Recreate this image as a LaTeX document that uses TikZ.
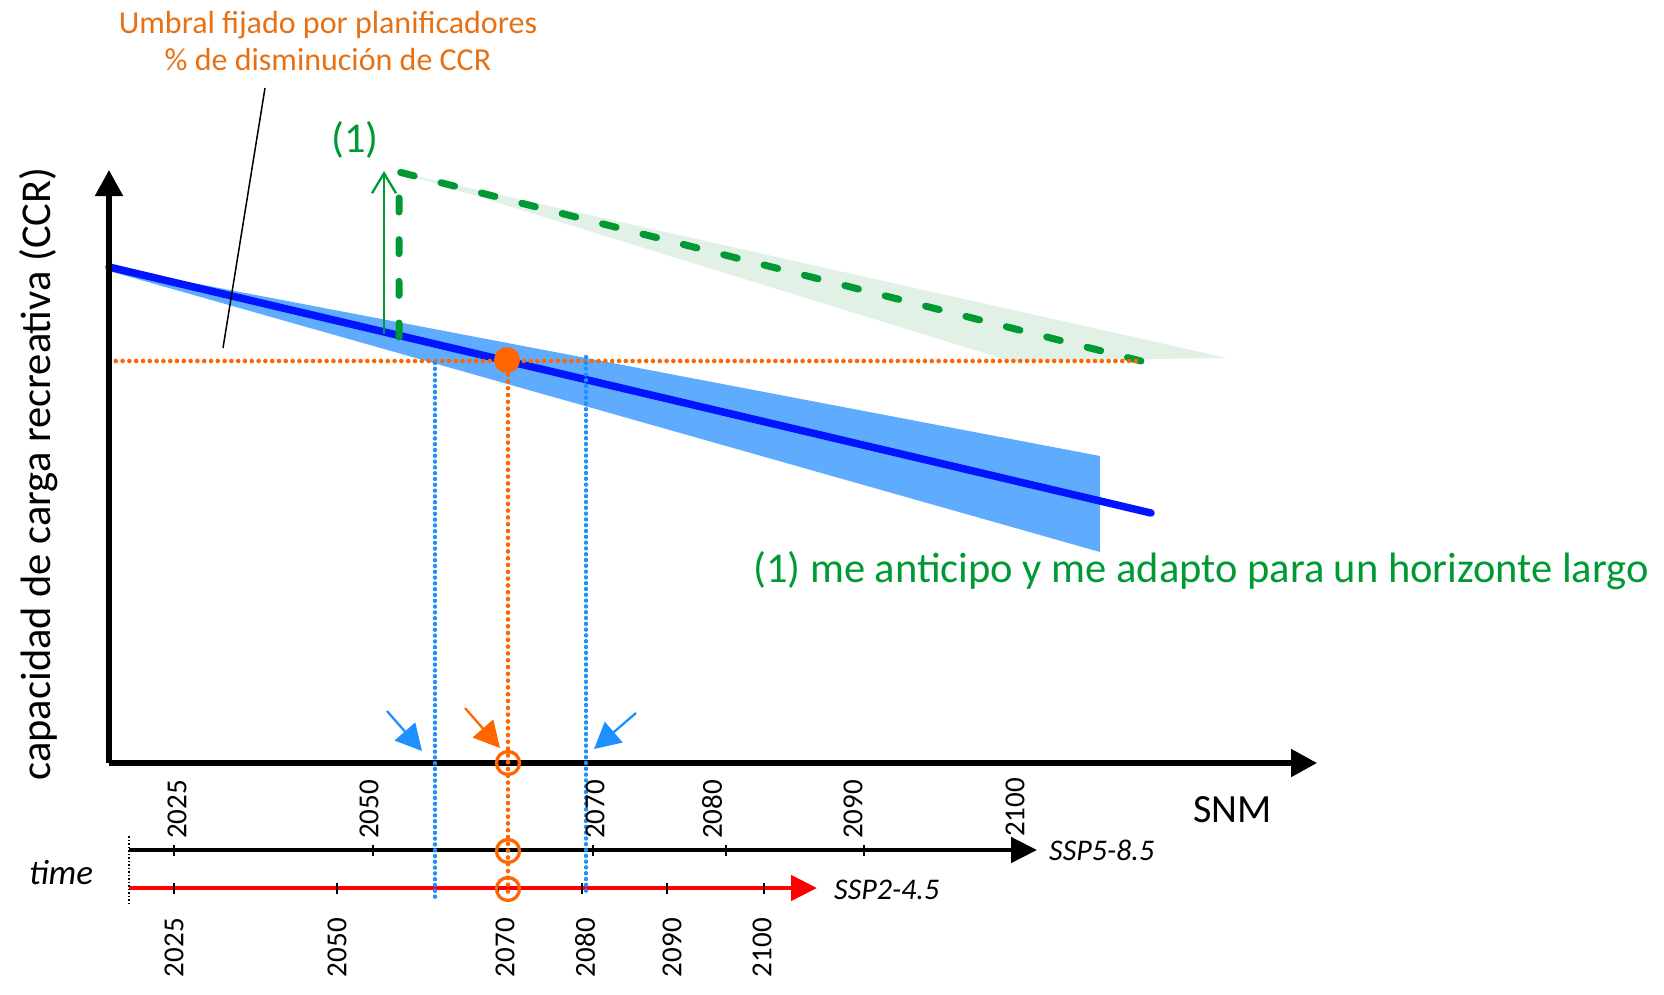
\documentclass[tikz,border=0pt]{standalone}
\usepackage{fontspec}
\setmainfont{Carlito}
\usetikzlibrary{arrows.meta}
\definecolor{cblue}{RGB}{0,20,255}
\definecolor{cband}{RGB}{95,172,255}
\definecolor{cgreen}{RGB}{0,153,51}
\definecolor{cgband}{RGB}{226,241,230}
\definecolor{corange}{RGB}{255,102,0}
\definecolor{ctext}{RGB}{232,112,20}
\definecolor{cdodger}{RGB}{30,144,255}
\definecolor{cred}{RGB}{255,0,0}
\tikzset{
  mainaxis/.style={line width=5.2pt,-{Triangle[length=26pt,width=27pt]}},
  timeaxis/.style={line width=4.6pt,-{Triangle[length=26pt,width=25pt]}},
  tickmark/.style={line width=1.5pt,black},
  odots/.style={corange,line width=4.6pt,line cap=round,dash pattern=on 0pt off 6.8pt},
  bdots/.style={cdodger,line width=4.4pt,line cap=round,dash pattern=on 0pt off 5.8pt},
  pointer/.style={line width=2.3pt,-{Triangle[length=26pt,width=27pt]}},
  ring/.style={circle,draw=corange,line width=3.3pt,minimum size=23pt,inner sep=0pt},
  yearup/.style={rotate=90,anchor=west,inner sep=0pt,font=\fontsize{29}{34}\selectfont},
  yeardown/.style={rotate=90,anchor=east,inner sep=0pt,font=\fontsize{29}{34}\selectfont},
  ssp/.style={anchor=base west,inner sep=0pt,font=\fontsize{30}{36}\selectfont\itshape},
  big/.style={inner sep=0pt,font=\fontsize{42.5}{50}\selectfont},
  titletext/.style={anchor=base,inner sep=0pt,text=ctext,font=\fontsize{32}{38}\selectfont}
}
\begin{document}
\begin{tikzpicture}[x=1pt,y=-1pt]
\useasboundingbox (0,0) rectangle (1664,994);
% coordinates
\coordinate (O) at (109,763);
\coordinate (ytop) at (109,170);
\coordinate (xend) at (1317,763);
\coordinate (t1s) at (129,850);
\coordinate (t1e) at (1037,850);
\coordinate (t2s) at (129,888);
\coordinate (t2e) at (817,888);
\coordinate (ls) at (109,267);
\coordinate (le) at (1151,513);
\coordinate (thS) at (109,361);
\coordinate (thE) at (1141,361);
\coordinate (gb) at (399,337);
\coordinate (gc) at (399,172);
\coordinate (ge) at (1141,361);
% green band
\fill[cgband] (398,172) -- (1227,358) -- (1010,361) -- cycle;
% blue band
\fill[cband] (ls) -- (1100,456) -- (1100,552) -- (109,271) -- cycle;
% blue line
\draw[cblue,line width=7.5pt,line cap=round] (ls) -- (le);
% green dashed
\draw[cgreen,line width=7pt,line cap=round,dash pattern=on 14pt off 27.67pt] (gb) -- (gc) -- (ge);
% green arrow
\coordinate (ga1) at (384,334);
\coordinate (ga2) at (384,171);
\draw[cgreen,line width=2.3pt,-{Straight Barb[length=20pt,width=24pt]}] (ga1) -- (ga2);
% threshold
\draw[odots] (thS) -- (thE);
% axes
\draw[mainaxis] (O) -- (ytop);
\draw[mainaxis] (O) -- (xend);
\draw[timeaxis,black] (t1s) -- (t1e);
\draw[timeaxis,cred] (t2s) -- (t2e);
\draw[black,line width=1.5pt,dash pattern=on 1.5pt off 2pt] (129,836) -- (129,904);
% ticks
\foreach \x in {174,373,593,726,864}{\draw[tickmark] (\x,845) -- (\x,856);}
\foreach \x in {174,337,498,582,667,764}{\draw[tickmark] (\x,883) -- (\x,894);}
% vertical dotted
\draw[bdots] (435,363) -- (435,897);
\draw[bdots] (586,357) -- (586,895);
\draw[odots] (508,361) -- (508,897);
% dot
\node[circle,fill=corange,minimum size=26pt,inner sep=0pt] (pt) at (507,360) {};
% pointer arrows
\coordinate (a1s) at (387,711); \coordinate (a1e) at (422,751);
\coordinate (a2s) at (465,708); \coordinate (a2e) at (500,748);
\coordinate (a3s) at (636,713); \coordinate (a3e) at (594,749);
\draw[pointer,cdodger] (a1s) -- (a1e);
\draw[pointer,corange] (a2s) -- (a2e);
\draw[pointer,cdodger] (a3s) -- (a3e);
% rings
\node[ring] (r1) at (508,763) {};
\node[ring] (r2) at (508,851) {};
\node[ring] (r3) at (508,889) {};
% leader
\coordinate (lt) at (265,88);
\coordinate (lb) at (223,348);
\draw[black,line width=1.5pt] (lt) -- (lb);
% texts
\node[titletext] (title1) at (328,33) {Umbral fijado por planificadores};
\node[titletext] (title2) at (328,70) {\% de disminución de CCR};
\node[big,anchor=base west,text=cgreen] (one) at (331,152) {(1)};
\node[big,anchor=base west,text=cgreen] (note) at (753,582) {(1) me anticipo y me adapto para un horizonte largo};
\node[big,rotate=90,anchor=base] (ylab) at (50,474) {capacidad de carga recreativa (CCR)};
\node[anchor=base west,inner sep=0pt,font=\fontsize{40}{48}\selectfont] (snm) at (1193,822) {SNM};
\node[ssp] (s5) at (1049,860) {SSP5-8.5};
\node[ssp] (s2) at (834,899) {SSP2-4.5};
\node[anchor=base west,inner sep=0pt,font=\fontsize{35}{42}\selectfont\itshape] (time) at (29,884) {time};
% year labels upper
\node[yearup] (u1) at (177,839) {2025};
\node[yearup] (u2) at (369,839) {2050};
\node[yearup] (u3) at (595,839) {2070};
\node[yearup] (u4) at (712,839) {2080};
\node[yearup] (u5) at (853,839) {2090};
\node[yearup] (u6) at (1015,837) {2100};
% year labels lower
\node[yeardown] (d1) at (174,918) {2025};
\node[yeardown] (d2) at (337,918) {2050};
\node[yeardown] (d3) at (505,918) {2070};
\node[yeardown] (d4) at (585,918) {2080};
\node[yeardown] (d5) at (672,918) {2090};
\node[yeardown] (d6) at (762,918) {2100};
\end{tikzpicture}
\end{document}
